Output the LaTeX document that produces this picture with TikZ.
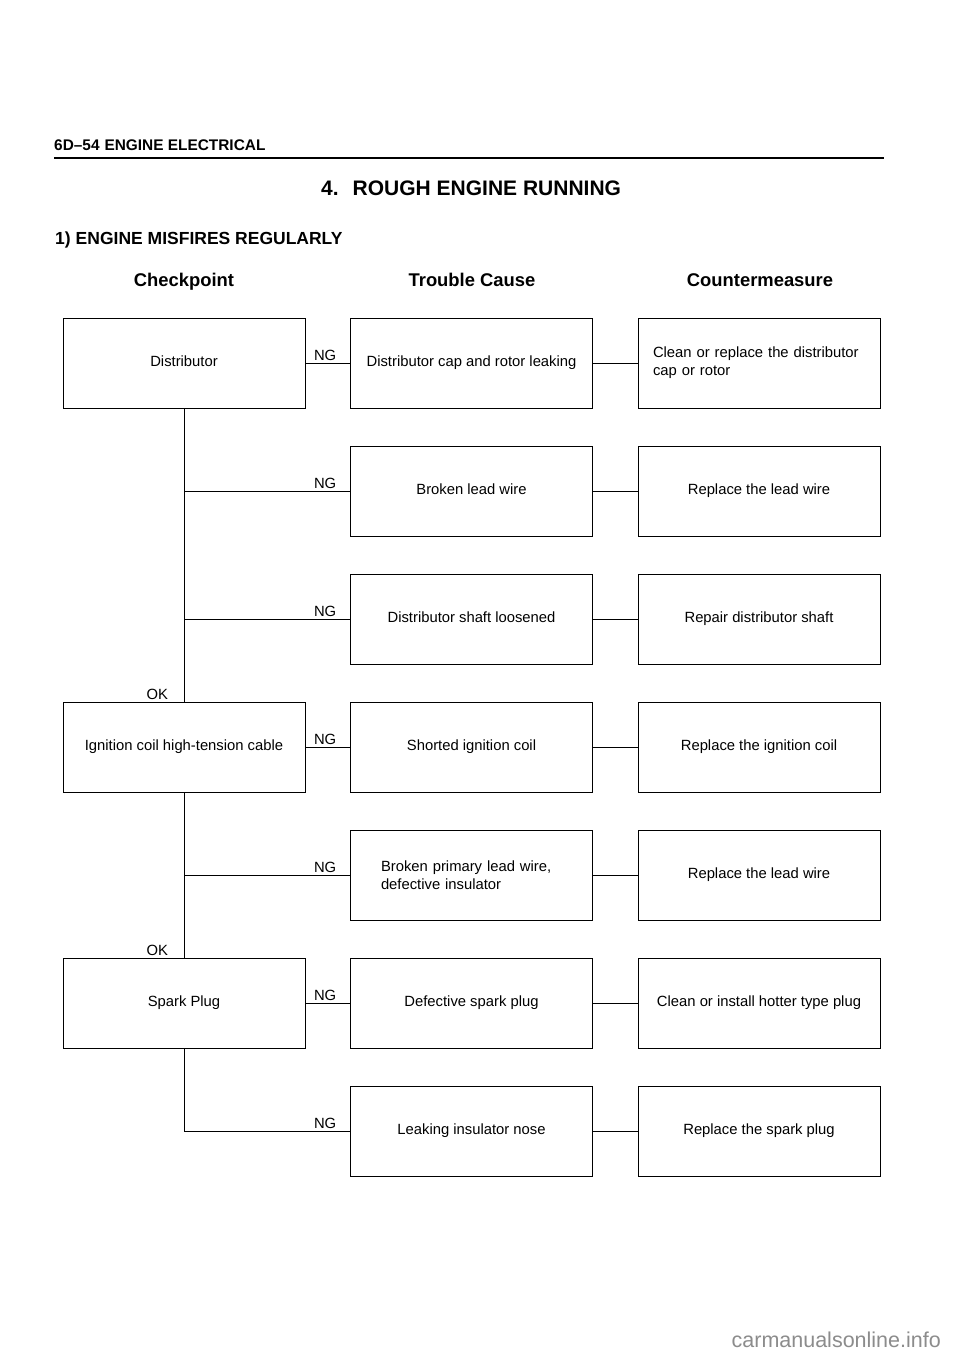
\documentclass[tikz,border=0pt]{standalone}
\usepackage{fontspec}
\setmainfont{Liberation Sans}
\begin{document}
\begin{tikzpicture}
    [x=1bp,y=-1bp,
    every node/.style={font=\fontsize{14.8bp}{18bp}\selectfont},%
    boite2/.style={draw,line width=0.8bp,minimum width=242bp,
      minimum height=90bp,align=center},
    boite/.style={boite2,text height=10.5bp,text depth=3bp},
    tete/.style={anchor=base,font=\bfseries\fontsize{18.4bp}{20bp}\selectfont},
    ng/.style={pos=1,anchor=south east,inner sep=1.5bp,xshift=-12bp},
    ok/.style={pos=1,anchor=south east,inner sep=1.5bp,xshift=-14bp}]
    \tikzstyle{lien}=[line width=0.8bp]
    \fill[white] (0,0) rectangle (960,1354);
    \useasboundingbox (0,0) rectangle (960,1354);

    % page head
    \node[anchor=base west,inner sep=0pt,font=\bfseries\fontsize{15.4bp}{18bp}\selectfont]
    (H) at (54,150.5) {6D--54\hspace{5bp}ENGINE ELECTRICAL};
    \draw[line width=2bp] (54,158) -- (884,158);
    \node[anchor=base west,inner sep=0pt,font=\bfseries\fontsize{21bp}{24bp}\selectfont]
    (T) at (321,196) {4.\hspace{14bp}ROUGH ENGINE RUNNING};
    \node[anchor=base west,inner sep=0pt,font=\bfseries\fontsize{17.5bp}{20bp}\selectfont]
    (M) at (55,245) {1)\hspace{5bp}ENGINE MISFIRES REGULARLY};
    \node[tete] (K1) at (184,286) {Checkpoint};
    \node[tete] (K2) at (472,286) {Trouble Cause};
    \node[tete] (K3) at (760,286) {Countermeasure};

    % checkpoints
    \node[boite] (D) at (184,363) {Distributor};
    \node[boite] (I) at (184,747) {Ignition coil high-tension cable};
    \node[boite] (S) at (184,1003) {Spark Plug};

    % trouble causes
    \node[boite] (C1) at (471.5,363) {Distributor cap and rotor leaking};
    \node[boite] (C2) at (471.5,491) {Broken lead wire};
    \node[boite] (C3) at (471.5,619) {Distributor shaft loosened};
    \node[boite] (C4) at (471.5,747) {Shorted ignition coil};
    \node[boite2,align=left,text width=181bp] (C5) at (471.5,875)
    {Broken primary lead wire,\\defective insulator};
    \node[boite] (C6) at (471.5,1003) {Defective spark plug};
    \node[boite] (C7) at (471.5,1131) {Leaking insulator nose};

    % countermeasures
    \node[boite2,align=left,text width=212bp] (R1) at (759,363)
    {Clean or replace the distributor\\cap or rotor};
    \node[boite] (R2) at (759,491) {Replace the lead wire};
    \node[boite] (R3) at (759,619) {Repair distributor shaft};
    \node[boite] (R4) at (759,747) {Replace the ignition coil};
    \node[boite] (R5) at (759,875) {Replace the lead wire};
    \node[boite] (R6) at (759,1003) {Clean or install hotter type plug};
    \node[boite] (R7) at (759,1131) {Replace the spark plug};

    % OK trunk
    \draw[lien] (D.south) -- node[ok] {OK} (I.north);
    \draw[lien] (I.south) -- node[ok] {OK} (S.north);

    % NG branches
    \draw[lien] (D.east) -- node[ng] {NG} (C1.west);
    \draw[lien] (C2.west -| D.south) -- node[ng] {NG} (C2.west);
    \draw[lien] (C3.west -| D.south) -- node[ng] {NG} (C3.west);
    \draw[lien] (I.east) -- node[ng] {NG} (C4.west);
    \draw[lien] (C5.west -| I.south) -- node[ng] {NG} (C5.west);
    \draw[lien] (S.east) -- node[ng] {NG} (C6.west);
    \draw[lien] (S.south) |- node[ng] {NG} (C7.west);

    % cause to countermeasure
    \draw[lien] (C1.east) -- (R1.west);
    \draw[lien] (C2.east) -- (R2.west);
    \draw[lien] (C3.east) -- (R3.west);
    \draw[lien] (C4.east) -- (R4.west);
    \draw[lien] (C5.east) -- (R5.west);
    \draw[lien] (C6.east) -- (R6.west);
    \draw[lien] (C7.east) -- (R7.west);

    \node[anchor=east,inner sep=0pt,text=black!45,font=\fontsize{21.5bp}{24bp}\selectfont]
    (W) at (941,1340) {carmanualsonline.info};
  \end{tikzpicture}
\end{document}
